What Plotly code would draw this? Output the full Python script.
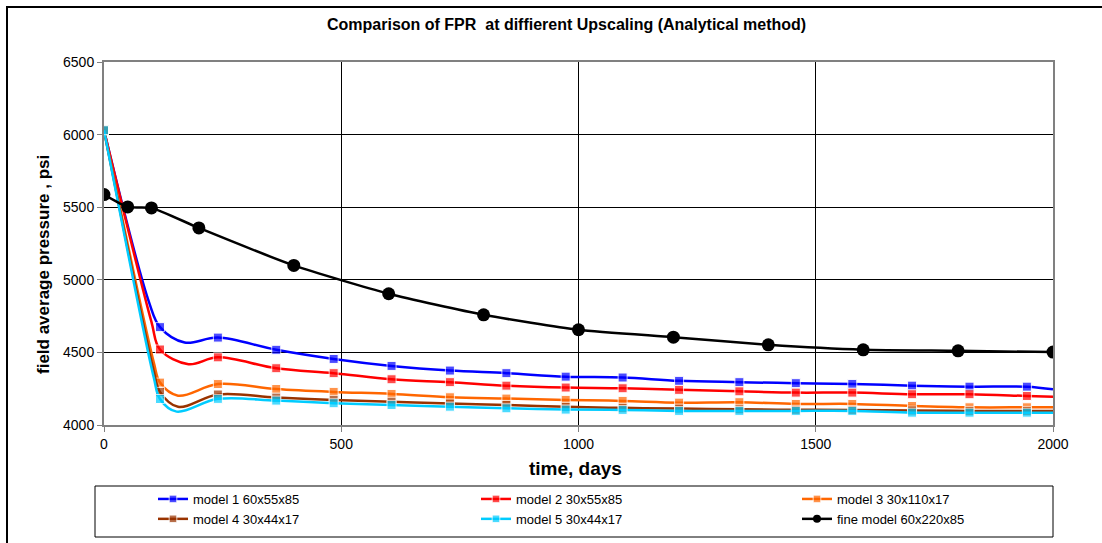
import plotly.graph_objects as go

# Report times (days) carrying markers for the upscaled models
days_report = [0, 118, 240, 363, 484, 606, 729, 848, 973, 1093, 1212, 1339, 1458, 1577, 1703, 1824, 1945]
# Fine-model report times (days)
days_fine = [0, 50, 100, 200, 400, 600, 800, 1000, 1200, 1400, 1600, 1800, 2000]

# Field average pressure at the report times, psi
model1 = [6030, 4674, 4602, 4518, 4455, 4407, 4375, 4357, 4333, 4327, 4304, 4295, 4288, 4283, 4271, 4264, 4264]
model2 = [6030, 4520, 4466, 4391, 4357, 4315, 4295, 4271, 4258, 4253, 4242, 4232, 4223, 4223, 4212, 4212, 4200]
model3 = [6030, 4292, 4282, 4248, 4228, 4214, 4191, 4182, 4173, 4166, 4154, 4157, 4145, 4145, 4131, 4122, 4122]
model4 = [6030, 4228, 4210, 4189, 4173, 4160, 4148, 4138, 4125, 4118, 4113, 4108, 4105, 4104, 4100, 4097, 4097]
model5 = [6030, 4179, 4180, 4168, 4150, 4138, 4126, 4115, 4106, 4104, 4097, 4097, 4097, 4097, 4085, 4085, 4085]
fine = [5587, 5502, 5495, 5357, 5099, 4904, 4759, 4656, 4605, 4552, 4518, 4511, 4502]

# Intermediate simulator time steps (no marker): end of the steep drop,
# bottom of the early dip, and the final step at day 2000
model1_steps = ([95, 170, 2000], [4845, 4568, 4246])
model2_steps = ([100, 178, 2000], [4710, 4419, 4195])
model3_steps = ([105, 156, 2000], [4430, 4202, 4122])
model4_steps = ([105, 156, 2000], [4370, 4125, 4097])
model5_steps = ([105, 153, 2000], [4325, 4092, 4085])

series = [
    ("model 1 60x55x85", model1, model1_steps, "#0000FF", "legend"),
    ("model 2 30x55x85", model2, model2_steps, "#FF0000", "legend2"),
    ("model 3 30x110x17", model3, model3_steps, "#FF6600", "legend3"),
    ("model 4 30x44x17", model4, model4_steps, "#993300", "legend"),
    ("model 5 30x44x17", model5, model5_steps, "#00CCFF", "legend2"),
]

fig = go.Figure()

for name, vals, steps, color, leg in series:
    pts = [(d, v, 9) for d, v in zip(days_report, vals)]
    pts += [(d, v, 0) for d, v in zip(*steps)]
    pts.sort()
    fig.add_trace(go.Scatter(
        x=[p[0] for p in pts], y=[p[1] for p in pts], name=name, legend=leg,
        mode="lines+markers",
        line=dict(color=color, width=2.5, shape="spline", smoothing=1),
        marker=dict(symbol="square", size=[p[2] for p in pts], color=color),
    ))

fig.add_trace(go.Scatter(
    x=days_fine, y=fine, name="fine model 60x220x85", showlegend=False,
    mode="lines+markers",
    line=dict(color="#000000", width=2.5, shape="spline", smoothing=0.6),
    marker=dict(symbol="circle", size=13, color="#000000"),
))
# legend key for the fine model uses a smaller dot than the plotted markers
fig.add_trace(go.Scatter(
    x=[None], y=[None], name="fine model 60x220x85", legend="legend3",
    mode="lines+markers",
    line=dict(color="#000000", width=2.5),
    marker=dict(symbol="circle", size=8, color="#000000"),
))

# plot-area geometry in pixels, used to place text and boxes in paper units
L, R, T, B, W, H = 104, 49, 62, 118, 1102, 543
PW, PH = W - L - R, H - T - B


def px(x):
    return (x - L) / PW


def py(y):
    return (H - B - y) / PH


def legend_column(x_pix):
    return dict(
        orientation="v", x=px(x_pix), y=py(484), xanchor="left", yanchor="top",
        font=dict(size=13), bgcolor="rgba(0,0,0,0)", borderwidth=0,
        itemwidth=30, tracegroupgap=0,
    )


fig.update_layout(
    width=W, height=H,
    margin=dict(l=L, r=R, t=T, b=B, autoexpand=False),
    paper_bgcolor="white", plot_bgcolor="white",
    font=dict(family="Liberation Sans, Arial, sans-serif", size=14, color="black"),
    showlegend=True,
    legend=legend_column(153),
    legend2=legend_column(476),
    legend3=legend_column(797),
    xaxis=dict(
        range=[0, 2000], tickvals=[0, 500, 1000, 1500, 2000],
        showgrid=True, gridcolor="#000000", gridwidth=1,
        showline=True, linecolor="#808080", linewidth=2, mirror=True,
        ticks="outside", ticklen=5, tickcolor="#808080",
        zeroline=False, tickfont=dict(size=14),
    ),
    yaxis=dict(
        range=[4000, 6500], tickvals=[4000, 4500, 5000, 5500, 6000, 6500],
        showgrid=True, gridcolor="#000000", gridwidth=1,
        showline=True, linecolor="#808080", linewidth=2, mirror=True,
        ticks="outside", ticklen=5, tickcolor="#808080",
        zeroline=False, tickfont=dict(size=14),
    ),
    shapes=[
        # outer chart frame
        dict(type="rect", xref="paper", yref="paper",
             x0=px(7), x1=px(1112), y0=py(560), y1=py(7),
             line=dict(color="#000000", width=2), layer="below"),
        # legend frame
        dict(type="rect", xref="paper", yref="paper",
             x0=px(95), x1=px(1053), y0=py(537), y1=py(486),
             line=dict(color="#000000", width=1)),
    ],
    annotations=[
        dict(text="<b>Comparison of FPR  at diffierent Upscaling (Analytical method)</b>",
             xref="paper", yref="paper", x=px(566), y=py(24),
             xanchor="center", yanchor="middle", showarrow=False, font=dict(size=16)),
        dict(text="<b>time, days</b>", xref="paper", yref="paper",
             x=px(575), y=py(468), xanchor="center", yanchor="middle",
             showarrow=False, font=dict(size=19)),
        dict(text="<b>field average pressure , psi</b>", xref="paper", yref="paper",
             x=px(43), y=py(265), xanchor="center", yanchor="middle", textangle=-90,
             showarrow=False, font=dict(size=17)),
    ],
)

fig.write_html("out.html")
